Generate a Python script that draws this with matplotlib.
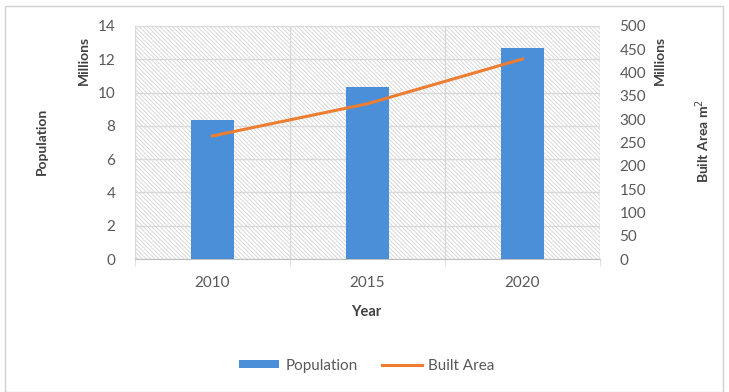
import matplotlib.pyplot as plt
from matplotlib.patches import Rectangle

plt.rcParams['font.family'] = ['Lato', 'DejaVu Sans']
plt.rcParams['hatch.linewidth'] = 0.6
plt.rcParams['hatch.color'] = '#c8c8c8'

years = ['2010', '2015', '2020']
population = [8.35, 10.35, 12.65]      # millions
built_area = [264, 333, 429]           # millions of m2

bar_color = '#4a8fd8'
line_color = '#ed7d31'
text_color = '#595959'
label_color = '#404040'
grid_color = '#d9d9d9'

fig = plt.figure(figsize=(7.29, 3.92), dpi=100)
fig.patches.append(Rectangle((0.007, 0.0), 0.985, 0.985, transform=fig.transFigure,
                             fill=False, edgecolor='#d0d0d0', linewidth=1.0))

ax = fig.add_axes([0.185, 0.339, 0.638, 0.595])
x = range(len(years))

# hatched plot background
ax.patch.set_facecolor('white')
ax.patch.set_hatch('\\' * 8)
ax.patch.set_edgecolor('#d2d2d2')

ax.bar(x, population, width=0.28, color=bar_color, zorder=3, label='Population')
ax.set_xlim(-0.5, 2.5)
ax.set_ylim(0, 14)
ax.set_yticks(range(0, 15, 2))
ax.set_xticks(list(x))
ax.set_xticklabels(years)
ax.set_xticks([-0.5, 0.5, 1.5, 2.5], minor=True)
ax.set_axisbelow(True)
ax.grid(axis='y', color=grid_color, linewidth=1.0)
ax.grid(axis='x', which='minor', color=grid_color, linewidth=1.0)
ax.tick_params(axis='y', length=0, pad=14, labelsize=11, labelcolor=text_color)
ax.tick_params(axis='x', which='major', length=0, pad=12, labelsize=11, labelcolor=text_color)
ax.tick_params(axis='x', which='minor', length=5, color=grid_color, direction='out')
for side in ['left', 'right', 'top']:
    ax.spines[side].set_visible(False)
ax.spines['bottom'].set_color('#bfbfbf')

ax2 = ax.twinx()
ax2.plot(list(x), built_area, color=line_color, linewidth=2.2, zorder=4, label='Built Area')
ax2.set_ylim(0, 500)
ax2.set_yticks(range(0, 501, 50))
ax2.tick_params(axis='y', length=0, pad=14, labelsize=11, labelcolor=text_color)
for side in ['left', 'right', 'top', 'bottom']:
    ax2.spines[side].set_visible(False)

# axis titles
fig.text(0.058, 0.64, 'Population', rotation=90, ha='center', va='center',
         fontsize=10, fontweight='bold', color=label_color)
fig.text(0.115, 0.845, 'Millions', rotation=90, ha='center', va='center',
         fontsize=10, fontweight='bold', color=label_color)
fig.text(0.905, 0.845, 'Millions', rotation=90, ha='center', va='center',
         fontsize=10, fontweight='bold', color=label_color)
fig.text(0.964, 0.64, 'Built Area m$^2$', rotation=90, ha='center', va='center',
         fontsize=10, fontweight='bold', color=label_color)
fig.text(0.503, 0.205, 'Year', ha='center', va='center',
         fontsize=10.5, fontweight='bold', color=label_color)

h1, l1 = ax.get_legend_handles_labels()
h2, l2 = ax2.get_legend_handles_labels()
fig.legend(h1 + h2, l1 + l2, loc='center', bbox_to_anchor=(0.503, 0.067), ncol=2,
           frameon=False, fontsize=11, labelcolor=text_color,
           handlelength=2.6, handleheight=0.45, columnspacing=1.6, handletextpad=0.4)

fig.savefig('out.png', dpi=100)
